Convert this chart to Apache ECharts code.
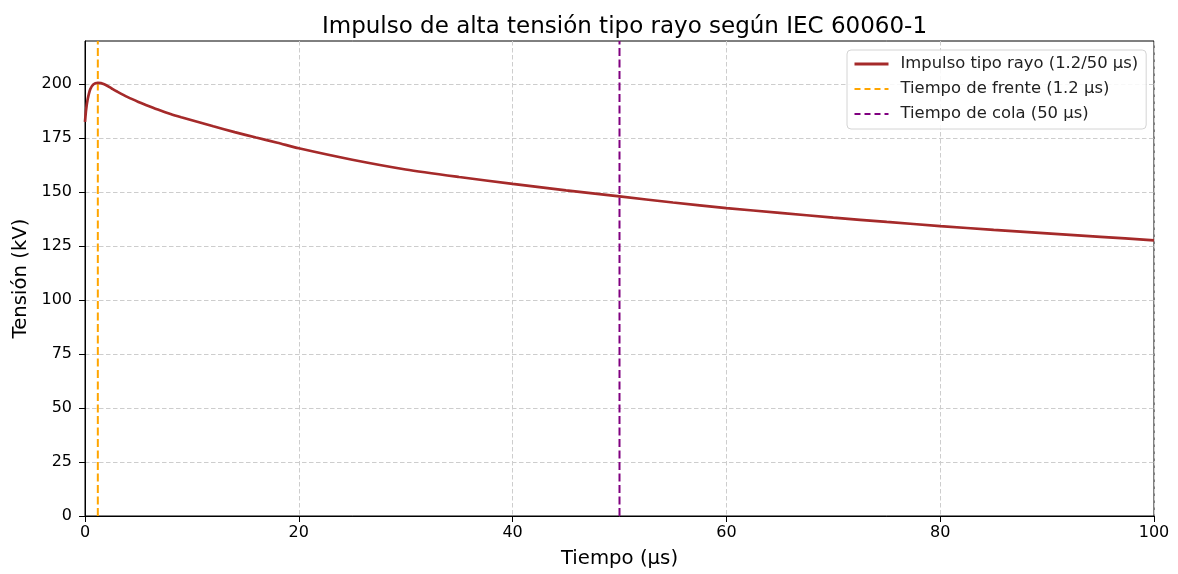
<!DOCTYPE html>
<html>
<head>
<meta charset="utf-8">
<script src="https://cdn.jsdelivr.net/npm/echarts@6/dist/echarts.min.js"></script>
<style>
  html, body { margin: 0; padding: 0; background: #fff; }
  #chart { width: 1178px; height: 574px; }
</style>
</head>
<body>
<div id="chart"></div>
<script>
// ---- Data ----
const timeUs = [0, 0.1, 0.25, 0.5, 0.8, 1.2, 1.8, 2.5, 3, 4, 5, 6, 7, 8, 9, 10, 12, 14, 16, 18, 20, 25, 30, 35, 40, 45, 50, 55, 60, 65, 70, 75, 80, 85, 90, 95, 100];
const voltageKV = [182.5, 188, 193, 197.8, 200, 200.6, 200, 198, 196.6, 194, 191.8, 189.8, 187.9, 186.2, 184.7, 183.3, 180.5, 177.8, 175.3, 172.9, 170.3, 165, 160.5, 157, 153.8, 150.8, 148, 145.2, 142.6, 140.4, 138.2, 136.2, 134.3, 132.5, 130.9, 129.3, 127.7];
const frontTime = 1.2;
const tailTime = 50;
const xTicks = [0, 20, 40, 60, 80, 100];
const yTicks = [0, 25, 50, 75, 100, 125, 150, 175, 200];
const xMin = 0, xMax = 100, yMin = 0, yMax = 220;

const seriesNames = ['Impulso tipo rayo (1.2/50 μs)', 'Tiempo de frente (1.2 μs)', 'Tiempo de cola (50 μs)'];
const seriesColors = ['#a52a2a', '#ffa500', '#800080'];

const mainData = timeUs.map((t, i) => [t, voltageKV[i]]);

const chart = echarts.init(document.getElementById('chart'), null, { renderer: 'canvas' });
const font = 'DejaVu Sans';
const gridLine = { show: true, lineStyle: { color: '#cdcdcd', width: 1, type: [4.5, 2.5] } };
const dash = [8, 3.5];

chart.setOption({
  animation: false,
  backgroundColor: '#fff',
  title: {
    text: 'Impulso de alta tensión tipo rayo según IEC 60060-1',
    left: 619.5,
    textAlign: 'center',
    top: 11,
    textStyle: { fontFamily: font, fontSize: 23, fontWeight: 'normal', color: '#000' }
  },
  grid: {
    left: 85, right: 24, top: 41, bottom: 57,
    show: true, borderColor: '#000', borderWidth: 1, backgroundColor: 'transparent'
  },
  legend: {
    data: [
      { name: seriesNames[0], lineStyle: { width: 3, color: seriesColors[0] } },
      { name: seriesNames[1], lineStyle: { width: 2, color: seriesColors[1], type: [6, 4] } },
      { name: seriesNames[2], lineStyle: { width: 2, color: seriesColors[2], type: [6, 4] } }
    ],
    orient: 'vertical',
    left: 847, top: 50,
    padding: [6, 8, 7, 6],
    itemWidth: 34, itemHeight: 16, itemGap: 9,
    borderColor: '#d4d4d4', borderWidth: 1, borderRadius: 4,
    backgroundColor: 'rgba(255,255,255,0.85)',
    itemStyle: { opacity: 0 },
    textStyle: { fontFamily: font, fontSize: 16.4, lineHeight: 16, color: '#222', padding: [0, 0, 0, 7] }
  },
  xAxis: {
    type: 'value', min: xMin, max: xMax, interval: 20,
    name: 'Tiempo (μs)', nameLocation: 'middle', nameGap: 33,
    nameTextStyle: { fontFamily: font, fontSize: 19.7, color: '#000' },
    axisLine: { show: true, lineStyle: { color: '#000', width: 1 } },
    axisTick: { show: true, length: 6, lineStyle: { color: '#000' }, customValues: xTicks },
    axisLabel: { fontFamily: font, fontSize: 16, color: '#000', margin: 9, customValues: xTicks },
    splitLine: gridLine
  },
  yAxis: {
    type: 'value', min: yMin, max: yMax, interval: 25,
    name: 'Tensión (kV)', nameLocation: 'middle', nameGap: 53, nameRotate: 90,
    nameTextStyle: { fontFamily: font, fontSize: 19.7, color: '#000' },
    axisLine: { show: true, lineStyle: { color: '#000', width: 1 } },
    axisTick: { show: true, length: 6, lineStyle: { color: '#000' }, customValues: yTicks },
    axisLabel: { fontFamily: font, fontSize: 16, color: '#000', margin: 13, customValues: yTicks },
    splitLine: gridLine
  },
  series: [
    {
      name: seriesNames[0], type: 'line', data: mainData, smooth: 0.25,
      showSymbol: false, symbol: 'none',
      lineStyle: { color: seriesColors[0], width: 2.7 }, itemStyle: { color: seriesColors[0] }, z: 3
    },
    {
      name: seriesNames[1], type: 'line', data: [[frontTime, yMin], [frontTime, yMax]],
      showSymbol: false, symbol: 'none',
      lineStyle: { color: seriesColors[1], width: 2, type: dash }, itemStyle: { color: seriesColors[1] }, z: 2
    },
    {
      name: seriesNames[2], type: 'line', data: [[tailTime, yMin], [tailTime, yMax]],
      showSymbol: false, symbol: 'none',
      lineStyle: { color: seriesColors[2], width: 2, type: dash }, itemStyle: { color: seriesColors[2] }, z: 2
    }
  ]
});
</script>
</body>
</html>
